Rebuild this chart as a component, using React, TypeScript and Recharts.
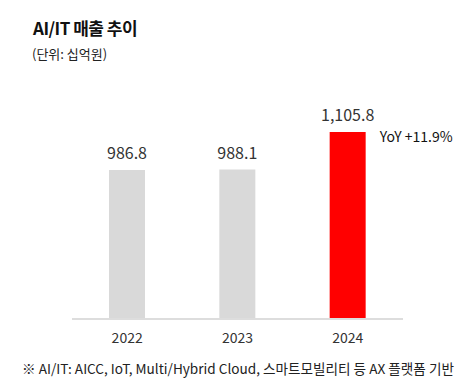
import { BarChart, Bar, XAxis, YAxis, Cell, LabelList } from "recharts";

const YEARS = ["2022", "2023", "2024"];
const REVENUE = [986.8, 988.1, 1105.8];
const BAR_COLORS = ["#d9d9d9", "#d9d9d9", "#ff0000"];
const YOY_NOTE = "YoY +11.9%";

const data = YEARS.map((year, i) => ({ year, value: REVENUE[i] }));

const FONT = "'Noto Sans CJK KR', 'Noto Sans', sans-serif";

function fmt(v: number) {
  return v.toLocaleString("en-US", { minimumFractionDigits: 1, maximumFractionDigits: 1 });
}

function YoyLabel(props: any) {
  const { x, y, width, index } = props;
  if (index !== YEARS.length - 1) return null;
  return (
    <text x={x + width + 14} y={y + 6} dominantBaseline="middle" fontSize={14} fill="#111" fontFamily={FONT}>
      {YOY_NOTE}
    </text>
  );
}

export default function App() {
  return (
    <div style={{ position: "absolute", left: 0, top: 0, width: 476, height: 390, background: "#fff", fontFamily: FONT }}>
      <div style={{ position: "absolute", left: 33, top: 15, fontSize: 17, fontWeight: 700, color: "#111", letterSpacing: -0.5 }}>
        AI/IT 매출 추이
      </div>
      <div style={{ position: "absolute", left: 32, top: 44, fontSize: 13, color: "#222" }}>(단위: 십억원)</div>
      <BarChart width={476} height={390} data={data} margin={{ top: 70, right: 73, left: 72, bottom: 41 }}>
        <XAxis
          dataKey="year"
          height={30}
          tickLine={false}
          tickMargin={8}
          axisLine={{ stroke: "#dddddd", strokeWidth: 2 }}
          tick={{ fontSize: 14, fill: "#333", fontFamily: FONT }}
        />
        <YAxis hide domain={[520, 1300]} />
        <Bar dataKey="value" barSize={36} isAnimationActive={false}>
          {data.map((_, i) => (
            <Cell key={i} fill={BAR_COLORS[i]} />
          ))}
          <LabelList
            dataKey="value"
            position="top"
            offset={11}
            formatter={(v: any) => fmt(Number(v))}
            style={{ fontSize: 16, fill: "#333", fontFamily: FONT }}
          />
          <LabelList dataKey="value" content={YoyLabel} />
        </Bar>
      </BarChart>
      <div style={{ position: "absolute", left: 22, top: 358, fontSize: 13.6, color: "#222", whiteSpace: "nowrap" }}>
        ※ AI/IT: AICC, IoT, Multi/Hybrid Cloud, 스마트모빌리티 등 AX 플랫폼 기반
      </div>
    </div>
  );
}
